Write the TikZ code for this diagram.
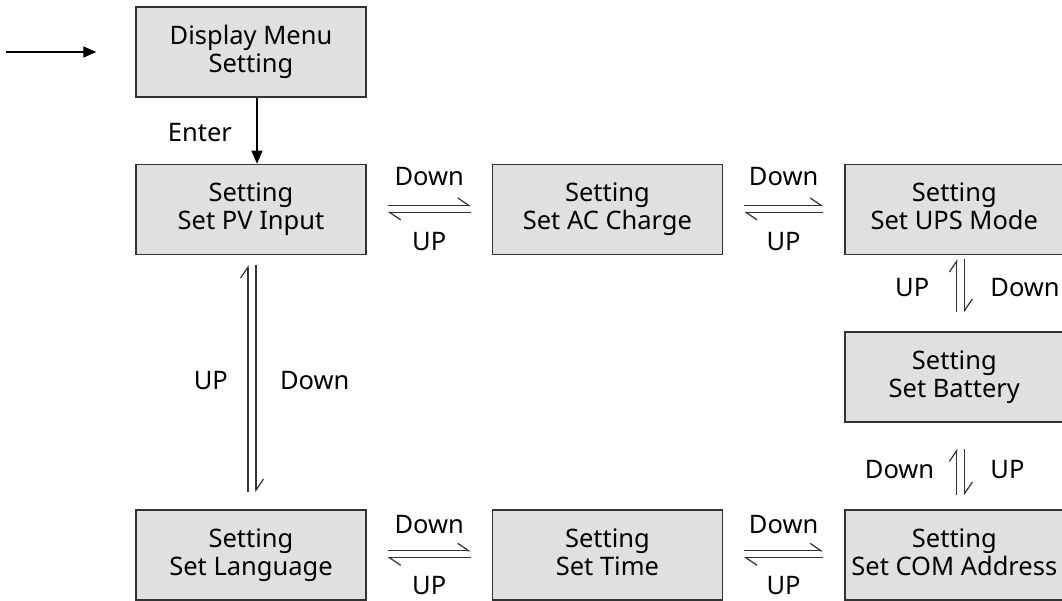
\documentclass[tikz,border=0pt]{standalone}
\usepackage{fontspec}
\setmainfont{Noto Sans}
\usetikzlibrary{positioning,arrows.meta,calc}
\definecolor{mnfill}{RGB}{224,224,224}
\definecolor{mnline}{RGB}{51,51,51}
\tikzset{
  box/.style={draw=mnline, line width=0.8pt, fill=mnfill, align=center, minimum width=4.6cm, minimum height=1.8cm, inner sep=2pt, font=\fontsize{14.5}{16}\selectfont, execute at end node={\vphantom{p}}},
  lbl/.style={font=\fontsize{14.5}{16}\selectfont, inner sep=1pt},
  arrow/.style={-{Triangle[length=2.6mm,width=2.2mm]}, line width=0.8pt, black},
  harp/.style={-{Straight Barb[left,length=2.2mm,width=3mm]}, line width=0.7pt, mnline}
}

\begin{document}
\begin{tikzpicture}
    \useasboundingbox (-5.02,1.04) rectangle (16.22,-10.96);
    \node[box] (menu) at (0,0) {Display Menu\\Setting};
    \node[box, below=1.32cm of menu] (pv) {Setting\\Set PV Input};
    \node[box, right=2.5cm of pv] (ac) {Setting\\Set AC Charge};
    \node[box, minimum width=4.38cm, right=2.42cm of ac] (ups) {Setting\\Set UPS Mode};
    \node[box, minimum width=4.38cm, below=1.52cm of ups] (bat) {Setting\\Set Battery};
    \node[box, below=5.08cm of pv] (lang) {Setting\\Set Language};
    \node[box, right=2.5cm of lang] (time) {Setting\\Set Time};
    \node[box, minimum width=4.38cm, right=2.42cm of time] (com) {Setting\\Set COM Address};
    % entry and enter
    \coordinate[left=2.58cm of menu.west] (in0);
    \coordinate[left=0.78cm of menu.west] (in1);
    \draw[arrow] (in0) -- (in1);
    \draw[arrow] ([xshift=0.12cm]menu.south) -- ([xshift=0.12cm]pv.north);
    \node[lbl] (enter) at ($(menu.south)+(-1.02,-0.7)$) {Enter};
    % top row
    \draw[harp] ([xshift=0.42cm,yshift=0.08cm]pv.east) -- ([xshift=-0.42cm,yshift=0.08cm]ac.west);
    \draw[harp] ([xshift=-0.42cm,yshift=-0.06cm]ac.west) -- ([xshift=0.42cm,yshift=-0.06cm]pv.east);
    \node[lbl] (d1) at ($($(pv.east)!0.5!(ac.west)$)+(0,0.66)$) {Down};
    \node[lbl] (u1) at ($($(pv.east)!0.5!(ac.west)$)+(0,-0.64)$) {UP};
    \draw[harp] ([xshift=0.42cm,yshift=0.08cm]ac.east) -- ([xshift=-0.42cm,yshift=0.08cm]ups.west);
    \draw[harp] ([xshift=-0.42cm,yshift=-0.06cm]ups.west) -- ([xshift=0.42cm,yshift=-0.06cm]ac.east);
    \node[lbl] (d2) at ($($(ac.east)!0.5!(ups.west)$)+(0,0.66)$) {Down};
    \node[lbl] (u2) at ($($(ac.east)!0.5!(ups.west)$)+(0,-0.64)$) {UP};
    % right column
    \draw[harp] ([xshift=0.05cm,yshift=0.38cm]bat.north) -- ([xshift=0.05cm,yshift=-0.08cm]ups.south);
    \draw[harp] ([xshift=0.21cm,yshift=-0.08cm]ups.south) -- ([xshift=0.21cm,yshift=0.38cm]bat.north);
    \node[lbl, anchor=east] (u3) at ($($(ups.south)!0.5!(bat.north)$)+(-0.46,0.12)$) {UP};
    \node[lbl, anchor=west] (d3) at ($($(ups.south)!0.5!(bat.north)$)+(0.68,0.12)$) {Down};
    \draw[harp] ([xshift=0.05cm,yshift=0.28cm]com.north) -- ([xshift=0.05cm,yshift=-0.52cm]bat.south);
    \draw[harp] ([xshift=0.21cm,yshift=-0.52cm]bat.south) -- ([xshift=0.21cm,yshift=0.28cm]com.north);
    \node[lbl, anchor=east] (d4) at ($($(bat.south)!0.5!(com.north)$)+(-0.36,-0.08)$) {Down};
    \node[lbl, anchor=west] (u4) at ($($(bat.south)!0.5!(com.north)$)+(0.68,-0.08)$) {UP};
    % bottom row
    \draw[harp] ([xshift=0.42cm,yshift=0.08cm]lang.east) -- ([xshift=-0.42cm,yshift=0.08cm]time.west);
    \draw[harp] ([xshift=-0.42cm,yshift=-0.06cm]time.west) -- ([xshift=0.42cm,yshift=-0.06cm]lang.east);
    \node[lbl] (d5) at ($($(lang.east)!0.5!(time.west)$)+(0,0.6)$) {Down};
    \node[lbl] (u5) at ($($(lang.east)!0.5!(time.west)$)+(0,-0.62)$) {UP};
    \draw[harp] ([xshift=0.42cm,yshift=0.08cm]time.east) -- ([xshift=-0.42cm,yshift=0.08cm]com.west);
    \draw[harp] ([xshift=-0.42cm,yshift=-0.06cm]com.west) -- ([xshift=0.42cm,yshift=-0.06cm]time.east);
    \node[lbl] (d6) at ($($(time.east)!0.5!(com.west)$)+(0,0.6)$) {Down};
    \node[lbl] (u6) at ($($(time.east)!0.5!(com.west)$)+(0,-0.62)$) {UP};
    % left column
    \draw[harp] ([xshift=-0.06cm,yshift=0.34cm]lang.north) -- ([xshift=-0.06cm,yshift=-0.2cm]pv.south);
    \draw[harp] ([xshift=0.1cm,yshift=-0.2cm]pv.south) -- ([xshift=0.1cm,yshift=0.34cm]lang.north);
    \node[lbl, anchor=east] (u7) at ($($(pv.south)!0.5!(lang.north)$)+(-0.42,0.04)$) {UP};
    \node[lbl, anchor=west] (d7) at ($($(pv.south)!0.5!(lang.north)$)+(0.54,0.04)$) {Down};
  \end{tikzpicture}
\end{document}
